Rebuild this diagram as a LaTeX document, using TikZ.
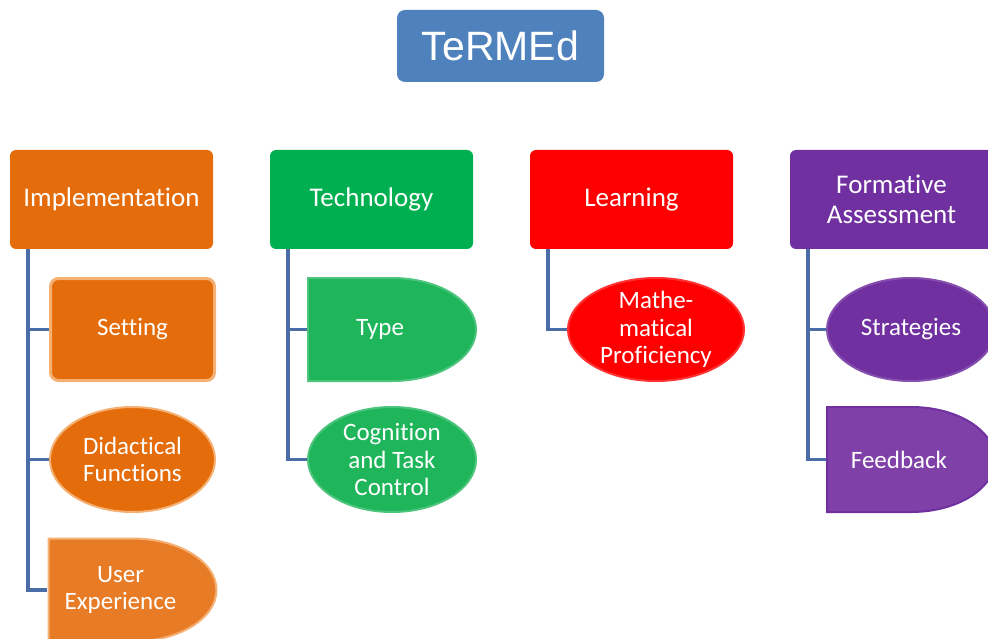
\documentclass[tikz,border=0pt]{standalone}
\usepackage{fontspec}
\setmainfont{Carlito}[Ligatures={NoCommon,NoContextual}]
\newfontfamily\titlefont{Liberation Sans}
\usetikzlibrary{calc}
\tikzset{>=latex}
\definecolor{titleblue}{HTML}{4F81BD}
\definecolor{linkblue}{HTML}{4A6DA7}
\definecolor{implorange}{HTML}{E46C0A}
\definecolor{uxorange}{HTML}{E87B26}
\definecolor{techgreen}{HTML}{00B050}
\definecolor{leafgreen}{HTML}{1FB55B}
\definecolor{learnred}{HTML}{FF0000}
\definecolor{formpurple}{HTML}{7030A0}
\definecolor{fbpurple}{HTML}{7F41A8}
\colorlet{lightorange}{implorange!45!white!80!orange}
\colorlet{lightgreen}{leafgreen!80!white}
\colorlet{lightred}{learnred!80!white}
\colorlet{lightpurple}{formpurple!85!white}
\tikzstyle{title}=[rectangle,rounded corners=8pt,fill=titleblue,minimum width=207pt,minimum height=72pt,
                   text=white,font=\titlefont\fontsize{41}{41}\selectfont]
\tikzstyle{head}=[rectangle,rounded corners=6pt,minimum width=203pt,minimum height=99pt,
                  text=white,align=center,font=\fontsize{27}{30}\selectfont]
\tikzstyle{leaf}=[rectangle,minimum width=170pt,minimum height=105pt,inner sep=0pt,
                  text=white,align=center,font=\fontsize{25}{27.5}\selectfont]
\tikzstyle{link}=[linkblue,line width=3.5pt]
\tikzset{
  oval/.style 2 args={path picture={
    \filldraw[fill=#1,draw=#2,line width=2pt]
      let \p1=($(path picture bounding box.north east)-(path picture bounding box.center)$) in
      (path picture bounding box.center) ellipse [x radius=\x1-1pt,y radius=\y1-1pt];
  }},
  delay/.style 2 args={path picture={
    \filldraw[fill=#1,draw=#2,line width=2pt]
      let \p1=($(path picture bounding box.north east)-(path picture bounding box.center)$) in
      ([xshift=1pt,yshift=-1pt]path picture bounding box.north west)
      -- ([yshift=-1pt]path picture bounding box.north)
      arc[start angle=90,end angle=-90,x radius=\x1-1pt,y radius=\y1-1pt]
      -- ([xshift=1pt,yshift=1pt]path picture bounding box.south west) -- cycle;
  }},
}
\def\gap{\hspace*{24pt}} % text of a delay shape sits left of its centre

\begin{document}
\begin{tikzpicture}[x=1pt,y=-1pt]
  \message{TeRMEd overview^^J}
  
  \def\W{988}
  \def\H{639}
  \def\drop{18pt} % offset of the links from the left side of a dimension
  \useasboundingbox (0,0) rectangle (\W,\H);
  \clip (0,0) rectangle (\W,\H);
  
  % TITLE
  \node[title] (termed) at (500.5,46) {TeRMEd};
  
  % DIMENSIONS
  \message{  Making dimensions...^^J}
  \node[head,fill=implorange] (impl)  at (111.5,199.5) {Implementation};
  \node[head,fill=techgreen]  (tech)  at (371.5,199.5) {Technology};
  \node[head,fill=learnred]   (learn) at (631.5,199.5) {Learning};
  \node[head,fill=formpurple] (form)  at (891.5,199.5) {Formative\\Assessment};
  
  % SUB-DIMENSIONS
  \message{  Making sub-dimensions...^^J}
  \node[leaf,rounded corners=8pt,fill=implorange,draw=lightorange,line width=3pt,
        minimum width=164pt,minimum height=102pt] (set) at (132.5,329.5) {Setting};
  \node[leaf,oval={implorange}{lightorange},minimum width=167pt,minimum height=107pt]
        (did) at (132.5,459.5) {Didactical\\Functions};
  \node[leaf,delay={uxorange}{lightorange}] (ux) at (132.5,590) {User\gap\\Experience\gap};
  
  \node[leaf,delay={leafgreen}{lightgreen}] (type) at (392,329.5) {Type\gap};
  \node[leaf,oval={leafgreen}{lightgreen},minimum height=107pt]
        (cog) at (392,459.5) {Cognition\\and Task\\Control};
  
  \node[leaf,oval={learnred}{lightred},minimum width=178pt]
        (prof) at (656,329.5) {Mathe-\\matical\\Proficiency};
  
  \node[leaf,oval={formpurple}{lightpurple}] (strat) at (911,329.5) {Strategies};
  \node[leaf,delay={fbpurple}{formpurple},minimum height=107pt]
        (fb) at (911,459.5) {Feedback\gap};
  
  % LINKS
  \foreach \c in {set,did,ux}
    \draw[link] ([xshift=\drop]impl.south west) |- (\c.west);
  \foreach \c in {type,cog}
    \draw[link] ([xshift=\drop]tech.south west) |- (\c.west);
  \draw[link] ([xshift=\drop]learn.south west) |- (prof.west);
  \foreach \c in {strat,fb}
    \draw[link] ([xshift=\drop]form.south west) |- (\c.west);
  
\end{tikzpicture}
\end{document}
